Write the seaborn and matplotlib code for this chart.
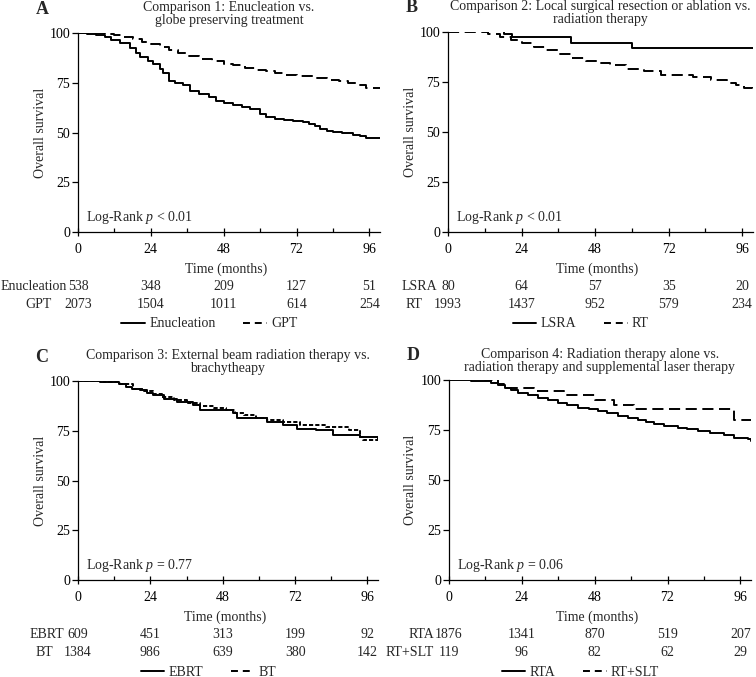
import matplotlib
matplotlib.use("Agg")
import matplotlib.pyplot as plt
import matplotlib.transforms as mtransforms
from matplotlib.lines import Line2D
import seaborn as sns

# ---------------- data ----------------
risk_times = [0, 24, 48, 72, 96]

# Panel A
a_enuc_months = [0, 3, 6, 9, 11, 14, 17, 19, 20.5, 23, 24.8, 27, 28, 30, 32, 34.7, 37, 40, 43, 45.6, 48, 51,
                 54, 56.6, 60, 62, 65, 68, 71, 74, 76, 78, 79.6, 82, 84, 87, 90.5, 93, 95, 99.5]
a_enuc_surv = [100, 99.5, 99, 98, 96.5, 95, 92.5, 90, 87.7, 86, 84.5, 82, 80, 76, 75, 74, 71, 69.5, 68, 66, 65,
               63.7, 63, 62, 59.3, 58, 57, 56.5, 56, 55.3, 54.5, 53.5, 52, 51, 50.3, 49.8, 48.7, 48, 47.3, 47]
a_gpt_months = [0, 6, 9, 12, 15, 18, 21, 24, 27, 30, 33, 36, 40, 44, 48, 51, 55, 59, 62, 65, 67.5, 72, 78.5,
                82, 86, 89, 92, 95, 99.5]
a_gpt_surv = [100, 100, 99.5, 99, 98, 96.8, 95.5, 94.5, 93, 91.5, 90, 88.5, 87, 86, 84.5, 83.7, 82.5, 81.5, 81,
              80, 79, 78.2, 77.5, 76.5, 75.8, 75, 74, 72.5, 72.5]
a_risk_enuc = [538, 348, 209, 127, 51]
a_risk_gpt = [2073, 1504, 1011, 614, 254]

# Panel B
b_lsra_months = [0, 18.2, 21, 40, 60, 99.5]
b_lsra_surv = [100.5, 99, 97.3, 94.5, 92, 92]
b_rt_months = [0, 8.7, 13, 17, 20.6, 24, 28, 31.5, 36, 40, 45, 49, 53, 58, 64, 69.4, 75, 80, 85.7, 91, 94,
               96.5, 99.5]
b_rt_surv = [100, 100, 99, 97.5, 96, 94.5, 92.5, 91, 89, 87, 85.5, 84.5, 83.3, 81.5, 80.3, 78.7, 78.3, 77.5,
             76, 74.5, 73.5, 72, 71.5]
b_risk_lsra = [80, 64, 57, 35, 20]
b_risk_rt = [1993, 1437, 952, 579, 234]

# Panel C
c_ebrt_months = [0, 7.4, 13.5, 16, 18, 20.6, 23, 25, 28.4, 32.8, 38.3, 40.5, 47, 51.5, 52.6, 57, 62.6, 68,
                 72.5, 79, 84.7, 90, 93.5, 99.5]
c_ebrt_surv = [100, 99.5, 98.7, 97, 96, 95.3, 94, 92.8, 91, 89.5, 87.8, 85.6, 85.3, 84, 81.6, 81.6, 79.4, 77.8,
               76, 75.3, 72.8, 72.8, 72, 71]
c_bt_months = [0, 8.5, 14, 18.4, 22, 25, 28, 31.7, 36, 40.5, 45, 49, 52, 55, 59, 62.6, 68, 73.6, 82.4, 90,
               93.5, 94.6, 99.5]
c_bt_surv = [100, 99.5, 98.3, 96.2, 95, 93.6, 92, 90.3, 88.8, 87.3, 86.5, 85.3, 84, 82.8, 81.5, 80.6, 79.4,
             77.8, 77, 75.3, 72, 70.3, 70.3]
c_risk_ebrt = [609, 451, 313, 199, 92]
c_risk_bt = [1384, 986, 639, 380, 142]

# Panel D
d_rta_months = [0, 7.4, 14, 16, 18.3, 20.5, 22.7, 26, 29.3, 32.5, 35.9, 39, 42.5, 46, 49, 52, 55.6, 59, 62.2,
                65, 67.7, 71, 75.4, 78.5, 82, 86, 90.7, 94, 98.4, 99.5]
d_rta_surv = [100, 99.5, 98.7, 97.5, 96.2, 95, 93.7, 92.5, 91.2, 90, 88.7, 87.5, 86.2, 85.4, 84.5, 83.3, 82,
              81, 80, 79, 77.8, 77, 76.2, 75.4, 74.5, 73.5, 72.3, 71.2, 70.7, 69.5]
d_slt_months = [0, 12, 16, 18, 28, 38, 48, 54.5, 61, 94, 99.5]
d_slt_surv = [100.5, 100, 98, 96.2, 94.5, 92.5, 90, 87.5, 85.5, 80, 80]
d_risk_rta = [1876, 1341, 870, 519, 207]
d_risk_slt = [119, 96, 82, 62, 29]

# ---------------- style ----------------
sns.set_theme(style="ticks")
plt.rcParams['font.family'] = ['Liberation Serif', 'DejaVu Serif']
plt.rcParams['mathtext.fontset'] = 'custom'
plt.rcParams['mathtext.rm'] = 'Liberation Serif'
plt.rcParams['mathtext.it'] = 'Liberation Serif:italic'
plt.rcParams['lines.scale_dashes'] = False
FS = 10
W, H = 756, 677

fig = plt.figure(figsize=(W / 100, H / 100), dpi=100)
fig.patch.set_facecolor('white')


def ftext(x, y, s, **kw):
    return fig.text(x / W, 1 - y / H, s, **kw)


panels = [
    dict(letter='A', pos=(78, 33, 302, 199), letter_x=42, ylab_x=40,
         title='Comparison 1: Enucleation vs.\nglobe preserving treatment',
         s1=(a_enuc_months, a_enuc_surv, 'Enucleation', a_risk_enuc),
         s2=(a_gpt_months, a_gpt_surv, 'GPT', a_risk_gpt),
         dash=(0, (8, 4)), p='Log-Rank $p$ < 0.01',
         labels=[(1, 'left'), (52, 'right')]),
    dict(letter='B', pos=(448, 32, 305, 200), letter_x=412, ylab_x=411,
         title='Comparison 2: Local surgical resection or ablation vs.\nradiation therapy',
         s1=(b_lsra_months, b_lsra_surv, 'LSRA', b_risk_lsra),
         s2=(b_rt_months, b_rt_surv, 'RT', b_risk_rt),
         dash=(0, (8, 4)), p='Log-Rank $p$ < 0.01',
         labels=[(437, 'right'), (406, 'left')]),
    dict(letter='C', pos=(78, 381, 300, 199), letter_x=42, ylab_x=40,
         title='Comparison 3: External beam radiation therapy vs.\nbrachytheapy',
         s1=(c_ebrt_months, c_ebrt_surv, 'EBRT', c_risk_ebrt),
         s2=(c_bt_months, c_bt_surv, 'BT', c_risk_bt),
         dash=(0, (3, 1.5)), p='Log-Rank $p$ = 0.77',
         labels=[(64, 'right'), (36, 'left')]),
    dict(letter='D', pos=(449, 380, 302, 200), letter_x=413, ylab_x=411,
         title='Comparison 4: Radiation therapy alone vs.\nradiation therapy and supplemental laser therapy',
         s1=(d_rta_months, d_rta_surv, 'RTA', d_risk_rta),
         s2=(d_slt_months, d_slt_surv, 'RT+SLT', d_risk_slt),
         dash=(0, (8, 4)), p='Log-Rank $p$ = 0.06',
         labels=[(434, 'right'), (434, 'right')]),
]

for P in panels:
    left, top, w, h = P['pos']
    bottom = top + h
    ax = fig.add_axes([left / W, (H - bottom) / H, w / W, h / H])
    ax.set_facecolor('white')

    m1, v1, n1, r1 = P['s1']
    m2, v2, n2, r2 = P['s2']
    sns.lineplot(x=m2, y=v2, ax=ax, color='black', lw=1.4, drawstyle='steps-post',
                 estimator=None, linestyle=P['dash'])
    sns.lineplot(x=m1, y=v1, ax=ax, color='black', lw=1.4, drawstyle='steps-post',
                 estimator=None, linestyle='-')

    ax.set_xlim(0, 99.5)
    ax.set_ylim(0, 100)
    ax.set_xticks(risk_times)
    ax.set_xticks([12, 36, 60, 84], minor=True)
    ax.set_yticks([0, 25, 50, 75, 100])
    ax.set_xticklabels([str(t) for t in risk_times])
    for s in ['top', 'right']:
        ax.spines[s].set_visible(False)
    for s in ['left', 'bottom']:
        ax.spines[s].set_color('black')
        ax.spines[s].set_linewidth(0.9)
    ax.tick_params(axis='x', which='major', direction='inout', length=6, width=0.9,
                   labelsize=FS, pad=5, color='black', labelcolor='black')
    ax.tick_params(axis='x', which='minor', direction='in', length=3, width=0.9, color='black')
    ax.tick_params(axis='y', which='major', direction='out', length=4, width=0.9,
                   labelsize=FS, pad=1.5, color='black', labelcolor='black')
    ax.set_xlabel('')
    ax.set_ylabel('')
    ax.grid(False)

    # y label
    ftext(P['ylab_x'], (top + bottom) / 2, 'Overall survival', rotation=90,
          ha='center', va='center', fontsize=FS)
    # x label
    ftext(left + w * 96 / 99.5 / 2 + 2, bottom + 37, 'Time (months)', ha='center', va='center', fontsize=FS)
    # log-rank text
    ax.text(2.5, 7.5, P['p'], ha='left', va='center', fontsize=FS)
    # title and letter
    ftext(left + w / 2, top - 19, P['title'], ha='center', va='center', fontsize=FS,
          linespacing=1.0, multialignment='center')
    ftext(P['letter_x'], top - 24, P['letter'], ha='center', va='center', fontsize=13,
          fontweight='bold')

    # number at risk table
    tr = mtransforms.blended_transform_factory(ax.transData, fig.transFigure)
    for k, (name, counts) in enumerate([(n1, r1), (n2, r2)]):
        yrow = bottom + 55 + 18 * k
        for t, c in zip(risk_times, counts):
            ax.text(t, 1 - yrow / H, str(c), transform=tr, ha='center', va='center',
                    fontsize=FS, clip_on=False)
        lx, la = P['labels'][k]
        ftext(lx, yrow, name, ha=la, va='center', fontsize=FS)

    # legend
    handles = [Line2D([], [], color='black', lw=1.4, linestyle='-'),
               Line2D([], [], color='black', lw=1.4, linestyle=(0, (5, 3.5)))]
    ltr = mtransforms.blended_transform_factory(ax.transAxes, fig.transFigure)
    ax.legend(handles, [n1, n2], loc='center', bbox_to_anchor=(0.435, 1 - (bottom + 92) / H),
              bbox_transform=ltr, frameon=False, ncol=2, handlelength=1.7, columnspacing=2.0,
              handletextpad=0.3, fontsize=FS, borderpad=0, borderaxespad=0)

fig.savefig('out.png', dpi=100, facecolor='white')
